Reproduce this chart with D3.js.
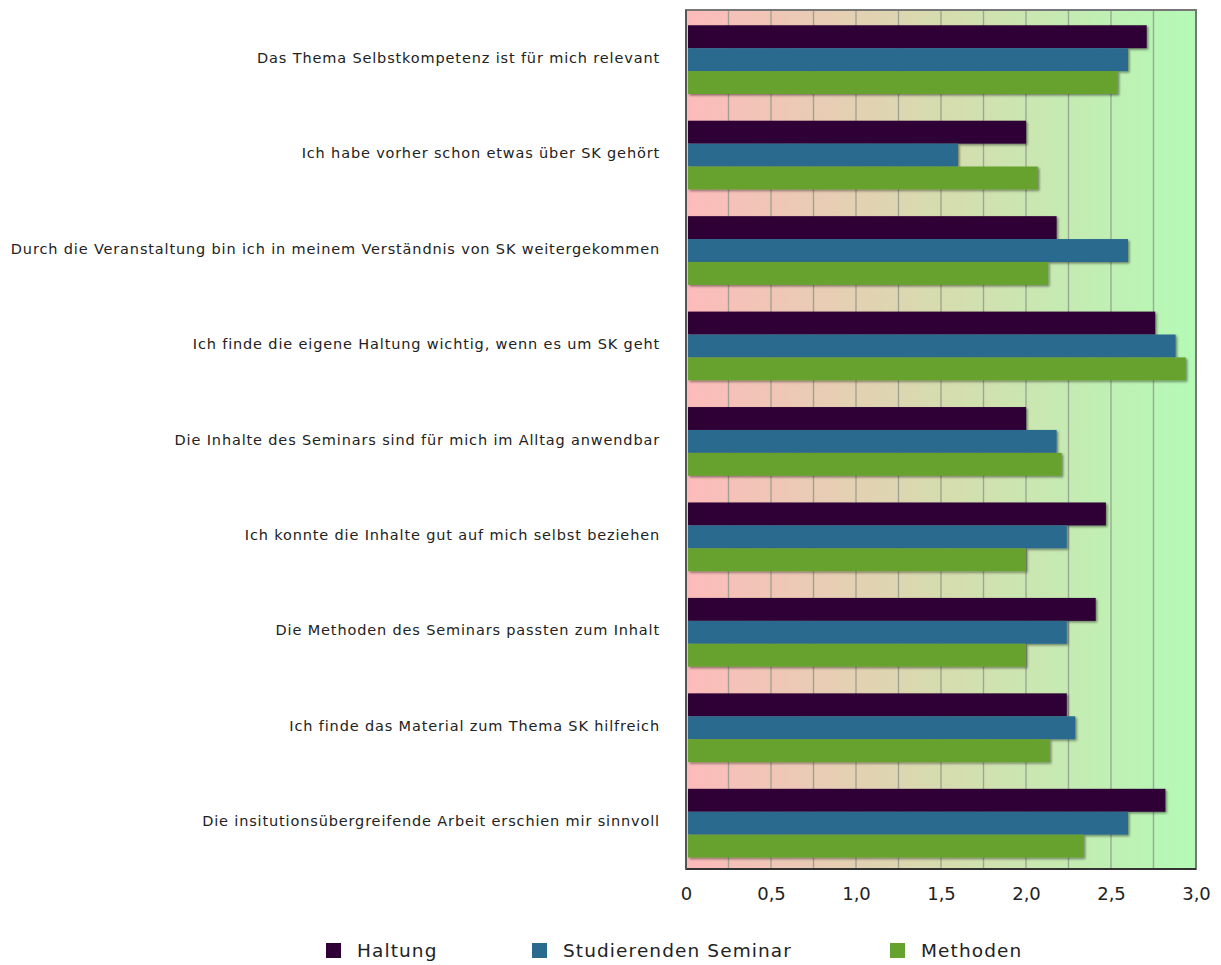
<!DOCTYPE html>
<html>
<head>
<meta charset="utf-8">
<script src="https://cdn.jsdelivr.net/npm/d3@7"></script>
<style>
  body { margin: 0; background: #fff; }
  text { font-family: "DejaVu Sans", Verdana, sans-serif; fill: #222; }
</style>
</head>
<body>
<svg id="chart" width="1221" height="965"></svg>
<script>
// data
const categories = [
    'Das Thema Selbstkompetenz ist für mich relevant',
    'Ich habe vorher schon etwas über SK gehört',
    'Durch die Veranstaltung bin ich in meinem Verständnis von SK weitergekommen',
    'Ich finde die eigene Haltung wichtig, wenn es um SK geht',
    'Die Inhalte des Seminars sind für mich im Alltag anwendbar',
    'Ich konnte die Inhalte gut auf mich selbst beziehen',
    'Die Methoden des Seminars passten zum Inhalt',
    'Ich finde das Material zum Thema SK hilfreich',
    'Die insitutionsübergreifende Arbeit erschien mir sinnvoll'
];
const seriesNames = ['Haltung', 'Studierenden Seminar', 'Methoden'];
const haltung = [2.71, 2.0, 2.18, 2.76, 2.0, 2.47, 2.41, 2.24, 2.82];
const seminar = [2.6, 1.6, 2.6, 2.88, 2.18, 2.24, 2.24, 2.29, 2.6];
const methoden = [2.54, 2.07, 2.13, 2.94, 2.21, 2.0, 2.0, 2.14, 2.34];
const tickValues = [0, 0.5, 1.0, 1.5, 2.0, 2.5, 3.0];
const colors = ['#2e0035', '#2a6a8e', '#67a22f'];

const svg = d3.select('#chart');
const margin = { top: 10, left: 686, right: 25, bottom: 96 };
const width = 1221 - margin.left - margin.right;
const height = 965 - margin.top - margin.bottom;

const x = d3.scaleLinear().domain([0, 3]).range([0, width]);
const y = d3.scaleBand().domain(categories).range([0, height]);
const y1 = d3.scaleBand().domain(seriesNames)
    .range([y.bandwidth() * 0.16, y.bandwidth() * 0.88]);

const rows = categories.map((c, i) => ({
    name: c,
    values: [haltung[i], seminar[i], methoden[i]]
}));

const defs = svg.append('defs');
const grad = defs.append('linearGradient').attr('id', 'bg')
    .attr('x1', '0%').attr('x2', '100%').attr('y1', '0%').attr('y2', '0%');
grad.append('stop').attr('offset', '0%').attr('stop-color', '#fdbbbb');
grad.append('stop').attr('offset', '50%').attr('stop-color', '#d6dcae');
grad.append('stop').attr('offset', '100%').attr('stop-color', '#b4fab6');

// shadow filter
const f = defs.append('filter').attr('id', 'shadow')
    .attr('x', '-5%').attr('y', '-20%').attr('width', '110%').attr('height', '150%');
f.append('feDropShadow')
    .attr('dx', 1.5).attr('dy', 1.5).attr('stdDeviation', 1.2)
    .attr('flood-color', '#000').attr('flood-opacity', 0.45);

const g = svg.append('g')
    .attr('transform', 'translate(' + margin.left + ',' + margin.top + ')');

g.append('rect')
    .attr('width', width).attr('height', height)
    .attr('fill', 'url(#bg)');

// grid
g.selectAll('.grid')
    .data(d3.range(0.25, 3, 0.25))
  .enter().append('line')
    .attr('x1', d => x(d)).attr('x2', d => x(d))
    .attr('y1', 0).attr('y2', height)
    .attr('stroke', '#8a9488')
    .attr('stroke-opacity', 0.75)
    .attr('stroke-width', 1.4);

const group = g.selectAll('.cat')
    .data(rows)
  .enter().append('g')
    .attr('class', 'cat')
    .attr('transform', d => 'translate(0,' + y(d.name) + ')');

group.selectAll('rect')
    .data(d => d.values.map((v, i) => ({ key: seriesNames[i], value: v, i: i })))
  .enter().append('rect')
    .attr('x', 2)
    .attr('y', d => y1(d.key))
    .attr('width', d => x(d.value) - 2)
    .attr('height', y1.bandwidth())
    .attr('fill', d => colors[d.i])
    .attr('filter', 'url(#shadow)');

// frame
g.append('rect')
    .attr('width', width).attr('height', height)
    .attr('fill', 'none')
    .attr('stroke', '#777')
    .attr('stroke-width', 2);
g.append('line')
    .attr('x1', 0).attr('x2', width)
    .attr('y1', height).attr('y2', height)
    .attr('stroke', '#333').attr('stroke-width', 2);
g.append('line')
    .attr('x1', 0).attr('x2', 0)
    .attr('y1', 0).attr('y2', height)
    .attr('stroke', '#555').attr('stroke-width', 2);

// category labels
svg.append('g')
    .selectAll('text')
    .data(categories)
  .enter().append('text')
    .attr('x', 660)
    .attr('y', d => margin.top + y(d) + y.bandwidth() / 2)
    .attr('dy', '0.35em')
    .attr('text-anchor', 'end')
    .attr('font-size', '14.5px')
    .attr('letter-spacing', '0.85px')
    .attr('fill', '#333')
    .text(d => d);

// x axis
const xAxis = d3.axisBottom(x)
    .tickValues(tickValues)
    .tickSize(0)
    .tickPadding(18)
    .tickFormat(d => d === 0 ? '0' : d3.format('.1f')(d).replace('.', ','));
const ax = g.append('g')
    .attr('transform', 'translate(0,' + height + ')')
    .call(xAxis);
ax.select('.domain').remove();
ax.selectAll('text')
    .attr('font-size', '18px')
    .attr('fill', '#333')
    .attr('font-family', '"DejaVu Sans", Verdana, sans-serif');

// legend
const legendX = [326, 532, 890];
const legend = svg.append('g')
    .selectAll('g')
    .data(seriesNames)
  .enter().append('g')
    .attr('transform', (d, i) => 'translate(' + legendX[i] + ',943)');
legend.append('rect')
    .attr('width', 15).attr('height', 15)
    .attr('fill', (d, i) => colors[i]);
legend.append('text')
    .attr('x', 31)
    .attr('y', 8)
    .attr('dy', '0.35em')
    .attr('font-size', '18.5px')
    .attr('letter-spacing', '1.1px')
    .attr('fill', '#333')
    .text(d => d);
</script>
</body>
</html>
